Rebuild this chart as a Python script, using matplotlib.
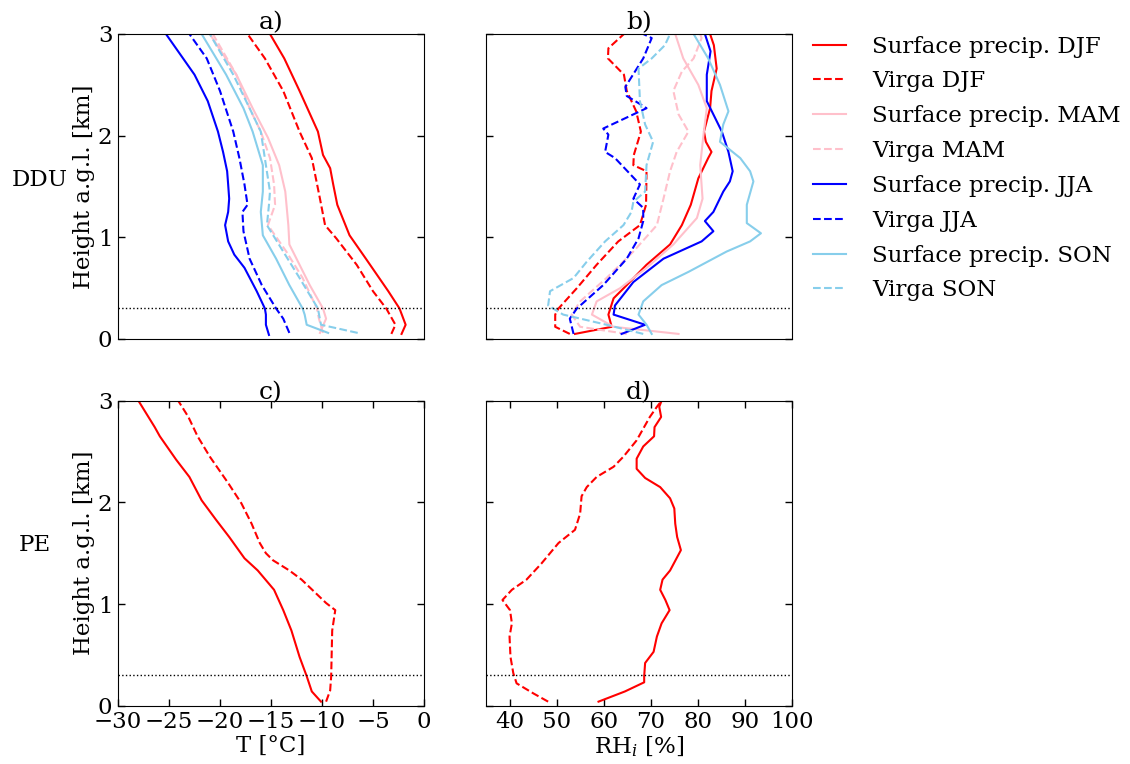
import matplotlib
matplotlib.use("Agg")
import matplotlib.pyplot as plt

FS = 16.5
plt.rcParams['font.family'] = ['DejaVu Serif']
plt.rcParams['font.size'] = FS
plt.rcParams['mathtext.fontset'] = 'dejavuserif'

# ---------------- Panel a: DDU temperature ----------------
h_a_djf_s = [0.05, 0.14, 0.30, 0.47, 0.79, 1.02, 1.32, 1.52, 1.68, 1.81, 2.04, 2.44, 2.76, 3.0]
t_a_djf_s = [-2.2, -1.8, -2.4, -3.5, -5.7, -7.3, -8.5, -8.9, -9.2, -9.9, -10.4, -12.2, -13.7, -15.1]
h_a_djf_v = [0.05, 0.14, 0.30, 0.47, 0.73, 0.99, 1.12, 1.38, 1.58, 1.78, 2.04, 2.44, 2.76, 3.0]
t_a_djf_v = [-3.2, -2.8, -3.7, -5.0, -6.6, -8.6, -9.7, -10.2, -10.6, -11.0, -12.2, -13.8, -15.6, -17.3]
h_a_mam_s = [0.06, 0.20, 0.30, 0.53, 0.79, 0.93, 1.12, 1.45, 1.71, 1.98, 2.27, 2.60, 3.0]
t_a_mam_s = [-10.2, -9.6, -9.9, -11.2, -12.5, -13.2, -13.3, -13.6, -14.2, -15.3, -16.8, -18.4, -21.0]
h_a_mam_v = [0.06, 0.20, 0.30, 0.60, 0.86, 1.12, 1.32, 1.52, 1.78, 2.04, 2.27, 2.60, 3.0]
t_a_mam_v = [-9.9, -10.3, -10.5, -11.9, -13.5, -15.3, -14.6, -14.7, -15.1, -16.0, -17.1, -18.4, -20.7]
h_a_jja_s = [0.04, 0.14, 0.24, 0.30, 0.47, 0.70, 0.83, 0.96, 1.12, 1.25, 1.38, 1.52, 1.65, 1.84, 2.04, 2.34, 2.60, 3.0]
t_a_jja_s = [-15.2, -15.5, -15.5, -15.6, -16.4, -17.6, -18.6, -19.2, -19.5, -19.2, -19.1, -19.2, -19.3, -19.7, -20.2, -21.2, -22.5, -25.3]
h_a_jja_v = [0.06, 0.20, 0.30, 0.53, 0.79, 1.06, 1.25, 1.32, 1.52, 1.78, 2.04, 2.44, 2.76, 3.0]
t_a_jja_v = [-13.2, -13.8, -14.5, -15.9, -17.1, -17.7, -17.8, -17.3, -17.6, -18.1, -18.7, -20.0, -21.3, -23.0]
h_a_son_s = [0.06, 0.14, 0.24, 0.30, 0.53, 0.79, 1.02, 1.25, 1.45, 1.71, 2.04, 2.27, 2.60, 3.0]
t_a_son_s = [-9.4, -11.5, -11.7, -11.9, -13.2, -14.5, -15.8, -16.0, -15.8, -15.8, -16.8, -17.7, -19.4, -21.8]
h_a_son_v = [0.06, 0.14, 0.30, 0.60, 0.86, 1.12, 1.32, 1.45, 1.71, 2.04, 2.27, 2.60, 3.0]
t_a_son_v = [-6.5, -10.1, -10.4, -12.2, -13.8, -15.4, -15.2, -15.1, -15.5, -16.0, -17.1, -18.7, -21.0]

# ---------------- Panel b: DDU RHi ----------------
h_b_djf_s = [0.05, 0.12, 0.24, 0.40, 0.53, 0.73, 0.93, 1.12, 1.32, 1.58, 1.78, 1.84, 1.94, 2.04, 2.27, 2.44, 2.66, 2.89, 3.0]
r_b_djf_s = [53.9, 61.7, 61.0, 62.1, 64.9, 69.1, 74.1, 76.6, 78.5, 80.1, 82.2, 82.9, 81.7, 81.3, 82.6, 82.9, 84.0, 83.4, 82.6]
h_b_djf_v = [0.05, 0.12, 0.24, 0.30, 0.50, 0.73, 0.96, 1.12, 1.32, 1.65, 1.71, 1.81, 2.04, 2.24, 2.44, 2.60, 2.76, 2.86, 3.0]
r_b_djf_v = [52.8, 49.7, 49.7, 50.4, 54.3, 58.5, 63.1, 67.7, 69.0, 69.1, 66.3, 66.4, 67.9, 66.9, 64.9, 64.3, 60.9, 61.0, 64.3]
h_b_mam_s = [0.05, 0.12, 0.24, 0.37, 0.50, 0.70, 0.93, 1.19, 1.38, 1.71, 2.01, 2.27, 2.50, 2.76, 3.0]
r_b_mam_s = [75.9, 62.1, 57.5, 58.5, 63.5, 69.1, 74.8, 79.8, 81.0, 80.5, 81.2, 81.9, 80.1, 76.9, 75.2]
h_b_mam_v = [0.05, 0.12, 0.24, 0.37, 0.60, 0.86, 1.12, 1.38, 1.65, 1.84, 2.04, 2.21, 2.44, 2.63, 2.76, 2.96, 3.0]
r_b_mam_v = [64.9, 55.0, 53.2, 55.0, 60.6, 66.3, 71.3, 72.7, 74.1, 75.5, 78.0, 75.9, 74.8, 76.6, 79.1, 80.8, 80.5]
h_b_jja_s = [0.05, 0.14, 0.24, 0.33, 0.56, 0.79, 0.96, 1.06, 1.16, 1.25, 1.45, 1.55, 1.65, 1.84, 2.04, 2.34, 2.60, 2.83, 3.0]
r_b_jja_s = [63.8, 68.8, 62.1, 62.4, 66.3, 72.7, 80.8, 83.3, 81.5, 83.3, 85.4, 86.8, 87.4, 86.5, 85.1, 81.9, 81.9, 82.7, 81.5]
h_b_jja_v = [0.05, 0.20, 0.30, 0.53, 0.79, 0.99, 1.16, 1.29, 1.38, 1.52, 1.78, 1.84, 2.01, 2.07, 2.27, 2.34, 2.39, 2.48, 2.76, 2.96, 3.0]
r_b_jja_v = [53.6, 52.8, 54.3, 59.9, 64.9, 67.4, 68.4, 68.4, 66.3, 67.7, 62.4, 60.3, 61.0, 59.9, 69.1, 66.7, 64.9, 64.6, 68.4, 70.2, 68.4]
h_b_son_s = [0.05, 0.14, 0.24, 0.37, 0.53, 0.66, 0.86, 0.96, 1.04, 1.14, 1.32, 1.55, 1.65, 1.78, 1.94, 2.11, 2.24, 2.50, 2.76, 3.0]
r_b_son_s = [70.2, 69.1, 67.4, 68.4, 72.3, 78.0, 86.1, 91.1, 93.4, 90.4, 90.4, 91.8, 91.1, 89.0, 84.7, 85.4, 86.5, 84.7, 82.2, 79.1]
h_b_son_v = [0.05, 0.14, 0.24, 0.33, 0.47, 0.60, 0.76, 0.96, 1.12, 1.25, 1.35, 1.45, 1.71, 1.94, 2.11, 2.34, 2.66, 2.76, 2.89, 3.0]
r_b_son_v = [68.4, 60.6, 51.4, 48.2, 48.6, 53.6, 56.4, 60.3, 64.2, 65.9, 66.3, 68.8, 69.1, 70.5, 68.8, 67.7, 67.4, 70.2, 73.0, 74.1]

# ---------------- Panel c: PE temperature ----------------
h_c_djf_s = [0.04, 0.14, 0.29, 0.48, 0.74, 0.94, 1.14, 1.33, 1.45, 1.66, 1.83, 2.02, 2.25, 2.42, 2.65, 2.74, 3.0]
t_c_djf_s = [-10.1, -11.0, -11.5, -12.2, -13.0, -13.8, -14.7, -16.3, -17.6, -19.1, -20.4, -21.8, -23.0, -24.3, -25.9, -26.4, -28.0]
h_c_djf_v = [0.04, 0.15, 0.29, 0.74, 0.94, 1.01, 1.24, 1.33, 1.43, 1.50, 1.60, 1.79, 1.99, 2.19, 2.45, 2.65, 2.84, 3.0]
t_c_djf_v = [-9.6, -9.2, -9.1, -9.0, -8.7, -9.6, -12.0, -13.2, -14.8, -15.5, -16.1, -16.9, -17.9, -19.2, -21.0, -22.2, -23.1, -24.1]

# ---------------- Panel d: PE RHi ----------------
h_d_djf_s = [0.04, 0.14, 0.23, 0.29, 0.42, 0.53, 0.68, 0.81, 0.94, 1.04, 1.14, 1.24, 1.33, 1.53, 1.66, 1.79, 1.94, 2.04, 2.15, 2.24, 2.33, 2.43, 2.55, 2.65, 2.74, 2.84, 2.94, 3.0]
r_d_djf_s = [58.9, 64.5, 68.6, 68.6, 68.8, 70.6, 71.3, 72.3, 74.0, 73.1, 72.0, 72.5, 74.1, 76.4, 75.6, 75.2, 75.0, 74.1, 72.0, 68.8, 67.0, 67.0, 68.4, 70.7, 70.8, 72.2, 71.8, 72.3]
h_d_djf_v = [0.04, 0.12, 0.22, 0.32, 0.48, 0.68, 0.81, 0.94, 1.04, 1.14, 1.24, 1.40, 1.60, 1.73, 1.89, 2.06, 2.15, 2.25, 2.35, 2.45, 2.61, 2.84, 2.94, 3.0]
r_d_djf_v = [48.2, 45.1, 41.5, 40.8, 40.2, 40.0, 40.5, 40.1, 38.5, 40.5, 43.6, 46.8, 50.4, 53.9, 55.0, 55.3, 56.4, 58.5, 62.1, 64.2, 67.0, 69.8, 71.3, 72.3]

seasons = ['DJF', 'MAM', 'JJA', 'SON']
colors = ['red', 'pink', 'blue', 'skyblue']
surface_label = 'Surface precip. '
virga_label = 'Virga '
height_label = 'Height a.g.l. [km]'
t_label = 'T [°C]'
rh_label = 'RH$_i$ [%]'
panel_titles = ['a)', 'b)', 'c)', 'd)']
site_labels = ['DDU', 'PE']
blh = 0.3

temp_ddu = {
    'DJF': ((h_a_djf_s, t_a_djf_s), (h_a_djf_v, t_a_djf_v)),
    'MAM': ((h_a_mam_s, t_a_mam_s), (h_a_mam_v, t_a_mam_v)),
    'JJA': ((h_a_jja_s, t_a_jja_s), (h_a_jja_v, t_a_jja_v)),
    'SON': ((h_a_son_s, t_a_son_s), (h_a_son_v, t_a_son_v)),
}
rh_ddu = {
    'DJF': ((h_b_djf_s, r_b_djf_s), (h_b_djf_v, r_b_djf_v)),
    'MAM': ((h_b_mam_s, r_b_mam_s), (h_b_mam_v, r_b_mam_v)),
    'JJA': ((h_b_jja_s, r_b_jja_s), (h_b_jja_v, r_b_jja_v)),
    'SON': ((h_b_son_s, r_b_son_s), (h_b_son_v, r_b_son_v)),
}

W, H = 1130, 764
fig = plt.figure(figsize=(W / 100, H / 100), dpi=100)

def box(x0, x1, y0, y1):
    return [x0 / W, 1 - y1 / H, (x1 - x0) / W, (y1 - y0) / H]

ax_a = fig.add_axes(box(118, 424, 34, 339))
ax_b = fig.add_axes(box(486, 792, 34, 339))
ax_c = fig.add_axes(box(118, 424, 400.7, 705.7))
ax_d = fig.add_axes(box(486, 792, 400.7, 705.7))

lw = 1.5
handles = []
for s, c in zip(seasons, colors):
    (hs, ts), (hv, tv) = temp_ddu[s]
    l1, = ax_a.plot(ts, hs, color=c, lw=lw, ls='-', label=surface_label + s)
    l2, = ax_a.plot(tv, hv, color=c, lw=lw, ls='--', label=virga_label + s)
    handles += [l1, l2]
    (hs, rs), (hv, rv) = rh_ddu[s]
    ax_b.plot(rs, hs, color=c, lw=lw, ls='-')
    ax_b.plot(rv, hv, color=c, lw=lw, ls='--')

ax_c.plot(t_c_djf_s, h_c_djf_s, color='red', lw=lw, ls='-')
ax_c.plot(t_c_djf_v, h_c_djf_v, color='red', lw=lw, ls='--')
ax_d.plot(r_d_djf_s, h_d_djf_s, color='red', lw=lw, ls='-')
ax_d.plot(r_d_djf_v, h_d_djf_v, color='red', lw=lw, ls='--')

for ax, title in zip([ax_a, ax_b, ax_c, ax_d], panel_titles):
    ax.axhline(blh, color='k', ls=':', lw=1)
    ax.set_ylim(0, 3)
    ax.set_yticks([0, 1, 2, 3])
    ax.set_title(title, fontsize=18, pad=1)
    ax.tick_params(direction='in', length=5, width=1, labelsize=FS, pad=4,
                   left=True, right=True, top=True, bottom=True)

for ax in [ax_a, ax_c]:
    ax.set_xlim(-30, 0)
for ax in [ax_b, ax_d]:
    ax.set_xlim(35, 100)
    ax.tick_params(labelleft=False)

for ax in [ax_a, ax_b]:
    ax.tick_params(top=False, bottom=False, labelbottom=False)

ax_c.set_xticks([-30, -25, -20, -15, -10, -5, 0])
ax_d.set_xticks([40, 50, 60, 70, 80, 90, 100])

ax_a.set_ylabel(height_label, fontsize=FS, labelpad=2)
ax_c.set_ylabel(height_label, fontsize=FS, labelpad=2)
ax_c.set_xlabel(t_label, fontsize=FS, labelpad=1)
ax_d.set_xlabel(rh_label, fontsize=FS, labelpad=1)

fig.text(40 / W, 1 - 180 / H, site_labels[0], ha='center', va='center', fontsize=FS)
fig.text(35 / W, 1 - 545 / H, site_labels[1], ha='center', va='center', fontsize=FS)

fig.legend(handles=handles, loc='upper left', bbox_to_anchor=(808 / W, 1 - 31 / H),
           frameon=False, fontsize=FS, handlelength=1.45, handletextpad=1.15,
           labelspacing=0.56, borderaxespad=0, borderpad=0.2)

fig.savefig('out.png', dpi=100)
